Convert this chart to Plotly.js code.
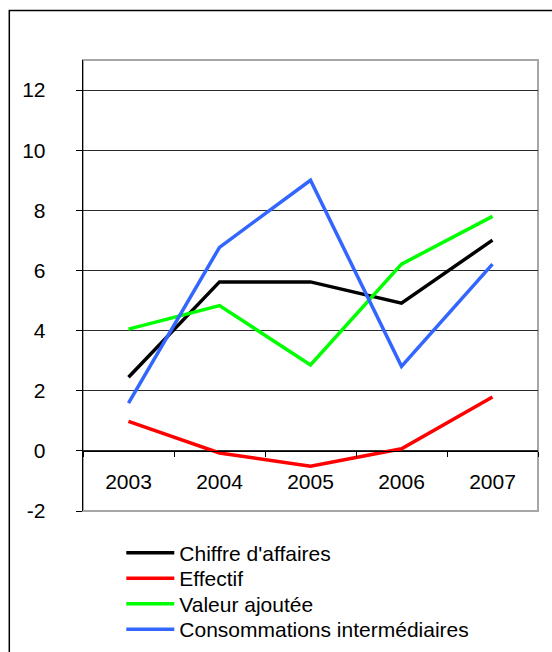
<!DOCTYPE html>
<html><head><meta charset="utf-8">
<script src="https://cdn.plot.ly/plotly-3.0.1.min.js"></script>
<style>html,body{margin:0;padding:0;background:#fff;overflow:hidden}</style>
</head><body><div id="chart" style="width:552px;height:652px"></div>
<script>
const years = ['2003', '2004', '2005', '2006', '2007'];
const chiffreAffaires = [2.45, 5.62, 5.62, 4.91, 7.01];
const effectif = [0.98, -0.07, -0.51, 0.07, 1.79];
const valeurAjoutee = [4.05, 4.83, 2.86, 6.21, 7.80];
const consommations = [1.59, 6.77, 9.0, 2.81, 6.21];
const seriesNames = ["Chiffre d'affaires", 'Effectif', 'Valeur ajoutée', 'Consommations intermédiaires'];
const yTickValues = [-2, 0, 2, 4, 6, 8, 10, 12];

const yMin = -2, yMax = 13;
const colors = ['#000000', '#ff0000', '#00ff00', '#3366ff'];
const seriesValues = [chiffreAffaires, effectif, valeurAjoutee, consommations];

const W = 552, H = 652;
const L = 82.7, R = 14.3, T = 60, B = 141;
const pw = W - L - R, ph = H - T - B;
const px = v => (v - L) / pw;
const py = v => (H - B - v) / ph;

const FONT = '"Liberation Sans", Arial, sans-serif';
const legendRows = [553, 578.5, 604, 629.5];
const legendKeys = ['legend', 'legend2', 'legend3', 'legend4'];

const traces = seriesValues.map((vals, i) => ({
  type: 'scatter', mode: 'lines', x: years, y: vals, name: seriesNames[i],
  legend: legendKeys[i],
  line: {color: colors[i], width: 3.5}, hoverinfo: 'skip'
}));

const layout = {
  width: W, height: H,
  margin: {l: L, r: R, t: T, b: B, pad: 0},
  paper_bgcolor: '#ffffff', plot_bgcolor: '#ffffff',
  font: {family: FONT, size: 21, color: '#000'},
  showlegend: true,
  xaxis: {
    type: 'category', range: [-0.5, 4.5], fixedrange: true,
    anchor: 'free', position: (0 - yMin) / (yMax - yMin),
    showline: true, linecolor: '#000', linewidth: 1,
    ticks: 'outside', tickson: 'boundaries', ticklen: 5, tickcolor: '#000', tickwidth: 1,
    showgrid: false, zeroline: false,
    ticklabelstandoff: 12,
    tickfont: {family: FONT, size: 21, color: '#000'}
  },
  yaxis: {
    range: [yMin, yMax], fixedrange: true,
    tickvals: yTickValues, ticktext: yTickValues.map(String),
    showline: true, linecolor: '#000', linewidth: 1.3,
    ticks: 'outside', ticklen: 6, tickcolor: '#000', tickwidth: 1,
    showgrid: true, gridcolor: '#2a2a2a', gridwidth: 1,
    zeroline: false,
    ticklabelstandoff: 26,
    tickfont: {family: FONT, size: 21, color: '#000'}
  },
  shapes: [
    {type: 'rect', xref: 'paper', yref: 'paper', x0: 0, x1: 1, y0: 0, y1: 1,
     line: {color: '#a6a6a6', width: 2}, layer: 'below'},
    {type: 'rect', xref: 'paper', yref: 'paper', x0: px(9), x1: px(570), y0: py(10.5), y1: py(680),
     line: {color: '#000', width: 1.5}, layer: 'below'}
  ]
};

legendKeys.forEach((k, i) => {
  layout[k] = {
    xref: 'paper', yref: 'container',
    x: px(121), xanchor: 'left', y: 1 - legendRows[i] / H, yanchor: 'middle',
    font: {family: FONT, size: 21, color: '#000'},
    itemwidth: 48, bgcolor: 'rgba(0,0,0,0)', borderwidth: 0
  };
});

Plotly.newPlot('chart', traces, layout, {staticPlot: true, displayModeBar: false});
</script></body></html>
